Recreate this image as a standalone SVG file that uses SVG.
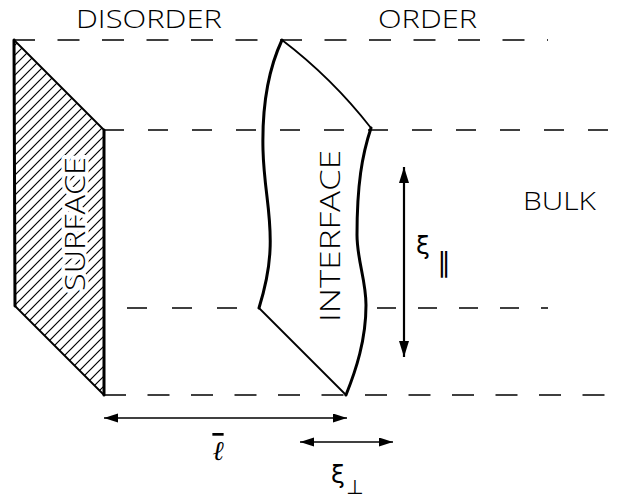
<svg xmlns="http://www.w3.org/2000/svg" width="626" height="502" viewBox="0 0 626 502">
<style>
.bg{fill:#fff}
.dash{stroke:#000;stroke-width:1.5;fill:none;stroke-dasharray:22 22.5}
.thick{stroke:#000;stroke-width:3;fill:none;stroke-linecap:round;stroke-linejoin:round}
.thin{stroke:#000;stroke-width:1.8;fill:none;stroke-linecap:round}
.arr{stroke:#000;stroke-width:1.4;fill:none}
.lbl{font-family:"Open Sans","Liberation Sans",Arial,sans-serif;font-weight:300;font-size:28px;fill:#000}
.halo{stroke:#fff;stroke-width:7;paint-order:stroke;stroke-linejoin:round}
.greek{font-family:"DejaVu Sans",sans-serif;fill:#000}
</style>
<defs>
<pattern id="hatch" patternUnits="userSpaceOnUse" width="10" height="10">
<path d="M0,10 L10,0 M-2,2 L2,-2 M8,12 L12,8" stroke="#000" stroke-width="1.2"/>
</pattern>
<marker id="ah" markerUnits="userSpaceOnUse" markerWidth="16" markerHeight="10" refX="14" refY="4.5" orient="auto-start-reverse">
<path d="M0,0 L14,4.5 L0,9 z" fill="#000"/>
</marker>
<marker id="ahb" markerUnits="userSpaceOnUse" markerWidth="18" markerHeight="12" refX="16" refY="5" orient="auto-start-reverse">
<path d="M0,0 L16,5 L0,10 z" fill="#000"/>
</marker>
</defs>
<rect class="bg" width="626" height="502"/>

<g id="connectors">
<path class="dash" d="M13,40 H548"/>
<path class="dash" d="M104,130 H626" style="stroke-dasharray:20 24"/>
<path class="dash" d="M127,308 H260" style="stroke-dasharray:20 25"/>
<path class="dash" d="M377,308 H548" style="stroke-dasharray:19 22"/>
<path class="dash" d="M104,395 H626" style="stroke-dasharray:22 21.5"/>
<path class="arr" d="M104,418 H347" marker-start="url(#ah)" marker-end="url(#ah)"/>
<path class="arr" d="M300,442 H393" marker-start="url(#ah)" marker-end="url(#ah)"/>
<path class="arr" d="M404,167 V357" style="stroke-width:2.2" marker-start="url(#ahb)" marker-end="url(#ahb)"/>
</g>

<g id="surface">
<polygon points="14,40 104,130 104,395 15,306" fill="url(#hatch)"/>
<path class="thin" d="M14,40 L104,130 M15,306 L104,395"/>
<path class="thick" d="M14,40 L15,306 M104,130 L104,395"/>
<text class="lbl halo" transform="translate(85,224) rotate(-90)" text-anchor="middle" textLength="134" lengthAdjust="spacingAndGlyphs">SURFACE</text>
</g>

<g id="interface">
<path class="thin" d="M282,40 Q332,78 371,128"/>
<path class="thin" d="M259,308 L346,395"/>
<path class="thick" d="M282,40 C268,70 262,110 263,150 C264,190 272,215 270,250 C269,275 263,295 259,308"/>
<path class="thick" d="M371,128 C362,155 357,185 357,235 C357,260 366,280 366,305 C366,340 356,370 346,395"/>
<text class="lbl" transform="translate(340,236) rotate(-90)" text-anchor="middle" textLength="172" lengthAdjust="spacingAndGlyphs">INTERFACE</text>
</g>

<g id="disorder"><text class="lbl" x="76" y="28" style="font-size:26px" textLength="146" lengthAdjust="spacingAndGlyphs">DISORDER</text></g>
<g id="order"><text class="lbl" x="378" y="28" style="font-size:26px" textLength="99" lengthAdjust="spacingAndGlyphs">ORDER</text></g>
<g id="bulk"><text class="lbl" x="523" y="210" style="font-size:25px" textLength="73" lengthAdjust="spacingAndGlyphs">BULK</text></g>

<g id="label-l"><text class="greek" x="218" y="460" style="font-size:27px;font-family:'DejaVu Serif',serif;font-style:italic;text-decoration:overline" text-anchor="middle">ℓ</text></g>
<g id="label-xi-par"><text class="greek" x="416" y="254" style="font-size:25px">ξ</text><text class="greek" x="437" y="272" style="font-size:27px">∥</text></g>
<g id="label-xi-perp"><text class="greek" x="331" y="483" style="font-size:25px">ξ</text><text class="greek" x="346" y="494" style="font-size:20px">⊥</text></g>
</svg>
